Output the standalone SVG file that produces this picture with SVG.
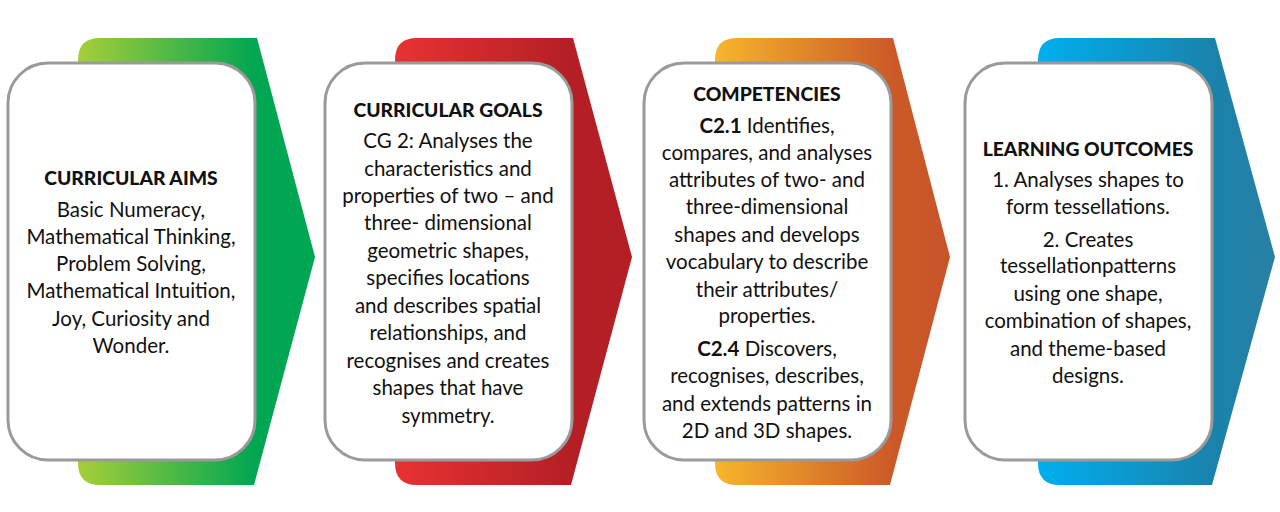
<svg xmlns="http://www.w3.org/2000/svg" width="1280" height="512" viewBox="0 0 1280 512">
<defs>
<linearGradient id="gGreen" x1="0" y1="0" x2="1" y2="0"><stop offset="0" stop-color="#a6ce39"/><stop offset="0.75" stop-color="#00a651"/><stop offset="1" stop-color="#00a651"/></linearGradient>
<linearGradient id="gRed" x1="0" y1="0" x2="1" y2="0"><stop offset="0" stop-color="#e83233"/><stop offset="0.75" stop-color="#b31f24"/><stop offset="1" stop-color="#b31f24"/></linearGradient>
<linearGradient id="gOrange" x1="0" y1="0" x2="1" y2="0"><stop offset="0" stop-color="#f7b52c"/><stop offset="0.75" stop-color="#cb5a28"/><stop offset="1" stop-color="#c8542a"/></linearGradient>
<linearGradient id="gBlue" x1="0" y1="0" x2="1" y2="0"><stop offset="0" stop-color="#00aeef"/><stop offset="0.75" stop-color="#1a82ab"/><stop offset="1" stop-color="#2a7fa3"/></linearGradient>
<style>
.box{fill:#fff;stroke:#9a9a9a;stroke-width:3}
text{font-family:Lato,"Liberation Sans",sans-serif;font-size:20.5px;fill:#111;text-anchor:middle}
.h{font-weight:900;font-size:19.3px}
.b{font-weight:bold}
</style>
</defs>
<g id="node-aims">
<path d="M100,38 L257,38 L315,257 L254,485 L100,485 Q78,485 78,463 L78,60 Q78,38 100,38 Z" fill="url(#gGreen)"/>
<rect class="box" x="8" y="63" width="247" height="397" rx="40"/>
<text x="131" y="185" class="h">CURRICULAR AIMS</text>
<text x="131" y="217">Basic Numeracy,</text>
<text x="131" y="244">Mathematical Thinking,</text>
<text x="131" y="271">Problem Solving,</text>
<text x="131" y="298">Mathematical Intuition,</text>
<text x="131" y="326">Joy, Curiosity and</text>
<text x="131" y="353">Wonder.</text>
</g>
<g id="node-goals">
<path d="M417,38 L573,38 L632,257 L571,485 L417,485 Q395,485 395,463 L395,60 Q395,38 417,38 Z" fill="url(#gRed)"/>
<rect class="box" x="325" y="63" width="247" height="397" rx="40"/>
<text x="448" y="117" class="h">CURRICULAR GOALS</text>
<text x="448" y="148">CG 2: Analyses the</text>
<text x="448" y="176">characteristics and</text>
<text x="448" y="203">properties of two – and</text>
<text x="448" y="230">three- dimensional</text>
<text x="448" y="258">geometric shapes,</text>
<text x="448" y="285">specifies locations</text>
<text x="448" y="313">and describes spatial</text>
<text x="448" y="340">relationships, and</text>
<text x="448" y="368">recognises and creates</text>
<text x="448" y="395">shapes that have</text>
<text x="448" y="423">symmetry.</text>
</g>
<g id="node-competencies">
<path d="M737,38 L893,38 L950,257 L890,485 L737,485 Q715,485 715,463 L715,60 Q715,38 737,38 Z" fill="url(#gOrange)"/>
<rect class="box" x="644" y="63" width="247" height="397" rx="40"/>
<text x="767" y="101" class="h">COMPETENCIES</text>
<text x="767" y="133"><tspan class="b">C2.1</tspan> Identifies,</text>
<text x="767" y="160">compares, and analyses</text>
<text x="767" y="187">attributes of two- and</text>
<text x="767" y="214">three-dimensional</text>
<text x="767" y="242">shapes and develops</text>
<text x="767" y="269">vocabulary to describe</text>
<text x="767" y="297">their attributes/</text>
<text x="767" y="323">properties.</text>
<text x="767" y="356"><tspan class="b">C2.4</tspan> Discovers,</text>
<text x="767" y="383">recognises, describes,</text>
<text x="767" y="411">and extends patterns in</text>
<text x="767" y="438">2D and 3D shapes.</text>
</g>
<g id="node-outcomes">
<path d="M1060,38 L1215,38 L1275,257 L1212,485 L1060,485 Q1038,485 1038,463 L1038,60 Q1038,38 1060,38 Z" fill="url(#gBlue)"/>
<rect class="box" x="965" y="63" width="247" height="397" rx="40"/>
<text x="1088" y="156" class="h">LEARNING OUTCOMES</text>
<text x="1088" y="187">1. Analyses shapes to</text>
<text x="1088" y="214">form tessellations.</text>
<text x="1088" y="247">2. Creates</text>
<text x="1088" y="273">tessellationpatterns</text>
<text x="1088" y="301">using one shape,</text>
<text x="1088" y="328">combination of shapes,</text>
<text x="1088" y="356">and theme-based</text>
<text x="1088" y="383">designs.</text>
</g>
<g id="connectors"></g>
</svg>
